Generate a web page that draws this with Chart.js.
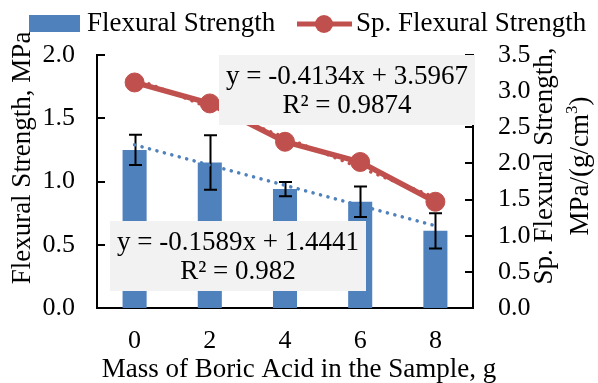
<!DOCTYPE html>
<html>
<head>
<meta charset="utf-8">
<script src="https://cdn.jsdelivr.net/npm/chart.js@4.4.1/dist/chart.umd.min.js"></script>
<style>
  html, body { margin: 0; padding: 0; background: #fff; }
</style>
</head>
<body>
<canvas id="chart" width="598" height="383"></canvas>
<script>
// data
const massLabels = ['0', '2', '4', '6', '8'];
const flexStrength = [1.25, 1.15, 0.94, 0.84, 0.61];
const flexError = [0.12, 0.215, 0.057, 0.12, 0.14];
const spFlexStrength = [3.12, 2.83, 2.30, 2.02, 1.47];
const flexTrend = [1.29, 1.13, 0.97, 0.81, 0.65];
const spFlexTrend = [3.18, 2.77, 2.36, 1.94, 1.53];
const leftTicks = [0, 0.5, 1.0, 1.5, 2.0];
const rightTicks = [0, 0.5, 1.0, 1.5, 2.0, 2.5, 3.0, 3.5];
const flexEquation = ['y = -0.1589x + 1.4441', 'R² = 0.982'];
const spFlexEquation = ['y = -0.4134x + 3.5967', 'R² = 0.9874'];

const BLUE = '#4F81BD';
const RED = '#C0504D';
const SERIF = '"Liberation Serif", "Times New Roman", serif';
const FS = 27;
const tickFont = { family: SERIF, size: 26 };

const decor = {
  id: 'decor',
  afterDatasetDraw(chart, args) {
    if (args.index !== 0) return;
    // error bars on the flexural strength bars
    const ctx = chart.ctx, xs = chart.scales.x, ys = chart.scales.y;
    ctx.save();
    ctx.strokeStyle = '#000';
    ctx.lineWidth = 2;
    flexStrength.forEach((v, i) => {
      const px = Math.round(xs.getPixelForValue(i)) + 0.5;
      const top = ys.getPixelForValue(v + flexError[i]);
      const bot = ys.getPixelForValue(v - flexError[i]);
      ctx.beginPath();
      ctx.moveTo(px, top); ctx.lineTo(px, bot);
      ctx.moveTo(px - 6.5, top); ctx.lineTo(px + 6.5, top);
      ctx.moveTo(px - 6.5, bot); ctx.lineTo(px + 6.5, bot);
      ctx.stroke();
    });
    ctx.restore();
  },
  afterDraw(chart) {
    const ctx = chart.ctx, area = chart.chartArea;
    const ys = chart.scales.y, y1 = chart.scales.y1;
    const big = FS + 'px ' + SERIF;
    ctx.save();

    // inward tick marks
    ctx.strokeStyle = '#000';
    ctx.lineWidth = 2;
    ctx.beginPath();
    leftTicks.forEach(v => {
      const py = Math.round(ys.getPixelForValue(v));
      ctx.moveTo(area.left, py); ctx.lineTo(area.left + 8, py);
    });
    rightTicks.forEach(v => {
      const py = Math.round(y1.getPixelForValue(v));
      ctx.moveTo(area.right, py); ctx.lineTo(area.right - 8, py);
    });
    ctx.stroke();

    // trendline equation boxes
    const box = (x, y, w, h, lines) => {
      ctx.fillStyle = '#F2F2F2';
      ctx.fillRect(x, y, w, h);
      ctx.fillStyle = '#000';
      ctx.font = big;
      ctx.textAlign = 'center';
      ctx.textBaseline = 'middle';
      ctx.fillText(lines[0], x + w / 2, y + 22);
      ctx.fillText(lines[1], x + w / 2, y + 51);
    };
    box(219, 55, 256, 70, spFlexEquation);
    box(110, 221, 256, 70, flexEquation);

    // legend
    ctx.fillStyle = BLUE;
    ctx.fillRect(29, 15, 51, 17);
    ctx.strokeStyle = RED;
    ctx.lineWidth = 5;
    ctx.beginPath();
    ctx.moveTo(297, 24); ctx.lineTo(352, 24);
    ctx.stroke();
    ctx.fillStyle = RED;
    ctx.beginPath();
    ctx.arc(324, 24, 9, 0, Math.PI * 2);
    ctx.fill();
    ctx.fillStyle = '#000';
    ctx.font = big;
    ctx.textAlign = 'left';
    ctx.textBaseline = 'middle';
    ctx.fillText('Flexural Strength', 87, 24);
    ctx.fillText('Sp. Flexural Strength', 356, 24);

    // axis titles
    ctx.textAlign = 'center';
    ctx.fillText('Mass of Boric Acid in the Sample, g', 299, 370);

    ctx.save();
    ctx.translate(23, 158);
    ctx.rotate(-Math.PI / 2);
    ctx.fillText('Flexural Strength, MPa', 0, 0);
    ctx.restore();

    ctx.save();
    ctx.translate(545, 166);
    ctx.rotate(-Math.PI / 2);
    ctx.fillText('Sp. Flexural Strength,', 0, 0);
    ctx.restore();

    ctx.save();
    ctx.translate(581, 166);
    ctx.rotate(-Math.PI / 2);
    const a = 'MPa/(g/cm', sup = '3', b = ')';
    const small = '17px ' + SERIF;
    ctx.font = big;
    const wa = ctx.measureText(a).width, wb = ctx.measureText(b).width;
    ctx.font = small;
    const ws = ctx.measureText(sup).width;
    const x = -(wa + ws + wb) / 2;
    ctx.textAlign = 'left';
    ctx.font = big;
    ctx.fillText(a, x, 0);
    ctx.font = small;
    ctx.fillText(sup, x + wa, -8);
    ctx.font = big;
    ctx.fillText(b, x + wa + ws, 0);
    ctx.restore();

    ctx.restore();
  }
};

new Chart(document.getElementById('chart'), {
  type: 'bar',
  data: {
    labels: massLabels,
    datasets: [
      {
        label: 'Flexural Strength',
        data: flexStrength,
        backgroundColor: BLUE,
        barPercentage: 0.32,
        categoryPercentage: 1,
        yAxisID: 'y',
        order: 4
      },
      {
        type: 'line',
        label: 'Flexural Strength trend',
        data: flexTrend,
        borderColor: BLUE,
        borderWidth: 3.5,
        borderDash: [0.1, 7.6],
        borderCapStyle: 'round',
        pointRadius: 0,
        yAxisID: 'y',
        order: 3
      },
      {
        type: 'line',
        label: 'Sp. Flexural Strength trend',
        data: spFlexTrend,
        borderColor: RED,
        borderWidth: 3.5,
        borderDash: [0.1, 7.6],
        borderCapStyle: 'round',
        pointRadius: 0,
        yAxisID: 'y1',
        order: 2
      },
      {
        type: 'line',
        label: 'Sp. Flexural Strength',
        data: spFlexStrength,
        borderColor: RED,
        backgroundColor: RED,
        borderWidth: 5.5,
        pointRadius: 9.5,
        pointBorderWidth: 1,
        pointBorderColor: RED,
        pointBackgroundColor: RED,
        yAxisID: 'y1',
        order: 1
      }
    ]
  },
  options: {
    responsive: false,
    animation: false,
    devicePixelRatio: 1,
    layout: { padding: { top: 55, left: 0, right: 0, bottom: 0 } },
    plugins: {
      legend: { display: false },
      tooltip: { enabled: false }
    },
    scales: {
      x: {
        offset: true,
        grid: { display: false, drawTicks: false },
        border: { display: true, color: '#000', width: 2 },
        ticks: { font: tickFont, color: '#000', padding: 18 },
        afterFit: s => { s.height = 75; }
      },
      y: {
        position: 'left',
        min: 0,
        max: 2,
        grid: { display: false, drawTicks: false },
        border: { display: true, color: '#000', width: 2 },
        ticks: { font: tickFont, color: '#000', padding: 22, callback: v => v.toFixed(1) },
        afterBuildTicks: s => { s.ticks = leftTicks.map(v => ({ value: v })); },
        afterFit: s => { s.width = 97; }
      },
      y1: {
        position: 'right',
        min: 0,
        max: 3.5,
        grid: { display: false, drawTicks: false },
        border: { display: true, color: '#000', width: 2 },
        ticks: { font: tickFont, color: '#000', padding: 25, callback: v => v.toFixed(1) },
        afterBuildTicks: s => { s.ticks = rightTicks.map(v => ({ value: v })); },
        afterFit: s => { s.width = 125; }
      }
    }
  },
  plugins: [decor]
});
</script>
</body>
</html>
